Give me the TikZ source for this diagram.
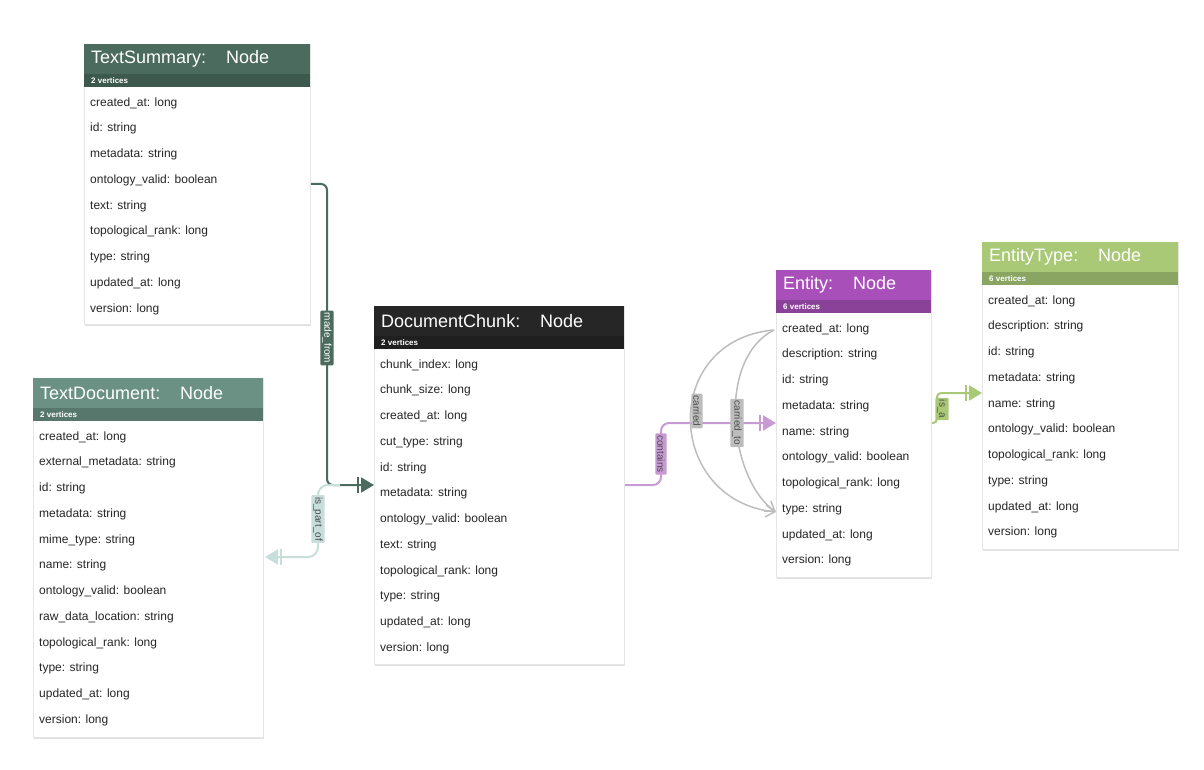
\documentclass[tikz,border=0pt]{standalone}
\usepackage{fontspec}
\setmainfont{Liberation Sans}
\usetikzlibrary{arrows.meta}
\definecolor{cTS}{HTML}{4A6B5E}
\definecolor{cTD}{HTML}{6A9184}
\definecolor{cDC}{HTML}{262626}
\definecolor{cEN}{HTML}{A94FBA}
\definecolor{cET}{HTML}{A9C977}
\definecolor{cPO}{HTML}{C7DEDA}
\definecolor{cCO}{HTML}{C89AD3}
\definecolor{cGR}{HTML}{BDBDBD}
\tikzset{
  rowtext/.style={anchor=west, inner sep=0pt, font=\fontsize{12}{14}\selectfont, text=black!85},
  titletext/.style={anchor=west, inner sep=0pt, text=white, font=\fontsize{18}{20}\selectfont},
  subtext/.style={anchor=west, inner sep=0pt, text=white, font=\bfseries\fontsize{8}{9}\selectfont},
  elabel/.style={rotate=-90, inner sep=2pt, rounded corners=1pt, font=\fontsize{10}{11}\selectfont},
  tip/.style={-{Bar[width=16pt,sep=2pt]Triangle[length=13pt,width=15pt]}},
}
\newcommand{\mktable}[8]{%
  \fill[black!12] (#2+1,#4+2) rectangle (#3+1,#5+2);
  \draw[black!10, fill=white] (#2,#4) rectangle (#3,#5);
  \fill[#7] (#2,#4) rectangle (#3,#4+30);
  \fill[#7!82!black] (#2,#4+30) rectangle (#3,#4+43);
  \node[titletext] (#1-title) at (#2+7,#4+15) {#6};
  \node[subtext] (#1-sub) at (#2+7,#4+36.5) {#8};
}
\newcommand{\mkrows}[4]{%
  \foreach \rowtxt [count=\i] in {#4} \node[rowtext] (#1-\i) at ({#2+6},{#3+60+(\i-1)*25.75}) {\rowtxt};
}
\begin{document}
\begin{tikzpicture}[x=1pt,y=-1pt]
\useasboundingbox (0,0) rectangle (1204,770);
% tables
\mktable{ts}{84}{310}{44}{324}{TextSummary:\hspace{1.1em}Node}{cTS}{2 vertices}
\mkrows{ts}{84}{43}{created\_at: long,id: string,metadata: string,ontology\_valid: boolean,text: string,topological\_rank: long,type: string,updated\_at: long,version: long}
\mktable{td}{33}{263}{378}{737}{TextDocument:\hspace{1.1em}Node}{cTD}{2 vertices}
\mkrows{td}{33}{377}{created\_at: long,external\_metadata: string,id: string,metadata: string,mime\_type: string,name: string,ontology\_valid: boolean,raw\_data\_location: string,topological\_rank: long,type: string,updated\_at: long,version: long}
\mktable{dc}{374}{624}{306}{664}{DocumentChunk:\hspace{1.1em}Node}{cDC}{2 vertices}
\mkrows{dc}{374}{305}{chunk\_index: long,chunk\_size: long,created\_at: long,cut\_type: string,id: string,metadata: string,ontology\_valid: boolean,text: string,topological\_rank: long,type: string,updated\_at: long,version: long}
\mktable{en}{776}{931}{270}{577}{Entity:\hspace{1.1em}Node}{cEN}{6 vertices}
\mkrows{en}{776}{269}{created\_at: long,description: string,id: string,metadata: string,name: string,ontology\_valid: boolean,topological\_rank: long,type: string,updated\_at: long,version: long}
\mktable{et}{982}{1178}{242}{549}{EntityType:\hspace{1.1em}Node}{cET}{6 vertices}
\mkrows{et}{982}{241}{created\_at: long,description: string,id: string,metadata: string,name: string,ontology\_valid: boolean,topological\_rank: long,type: string,updated\_at: long,version: long}
% anchor coordinates
\coordinate (tsR) at (311,184);
\coordinate (dcL) at (374,485);
\coordinate (tdR) at (265,557);
\coordinate (pofS) at (340,485);
\coordinate (dcR) at (625,485);
\coordinate (enL) at (776,423);
\coordinate (enC) at (774,330);
\coordinate (enT) at (776,512);
\coordinate (enR) at (932,423);
\coordinate (etL) at (982,393);
% edges
\draw[cTS, line width=2pt, rounded corners=6pt, tip] (tsR) -| (327,485) -- (dcL);
\node[elabel, fill=cTS, text=white] (lmf) at (327,338) {made\_from};
\draw[cPO, line width=2pt, rounded corners=10pt, tip] (pofS) -- (318,485) |- (tdR);
\node[elabel, fill=cPO, text=black!70] (lpo) at (318,519) {is\_part\_of};
\draw[cCO, line width=2pt, rounded corners=8pt, tip] (dcR) -- (661,485) |- (enL);
\node[elabel, fill=cCO, text=black!70] (lco) at (661,454) {contains};
\draw[cGR, line width=1.5pt, -{Straight Barb[length=9pt,width=12pt]}] (enC) .. controls (660,340) and (665,500) .. (enT);
\draw[cGR, line width=1.5pt, -{Straight Barb[length=9pt,width=12pt]}] (enC) .. controls (715,360) and (730,480) .. (enT);
\node[elabel, fill=cGR, text=black!70] (lca) at (697,411) {carried};
\node[elabel, fill=cGR, text=black!70] (lct) at (737,423) {carried\_to};
\draw[cET, line width=2pt, rounded corners=4pt, tip] (enR) -- (937,423) |- (etL);
\node[elabel, fill=cET, text=black!70] (lia) at (942,409) {is\_a};
\end{tikzpicture}
\end{document}
